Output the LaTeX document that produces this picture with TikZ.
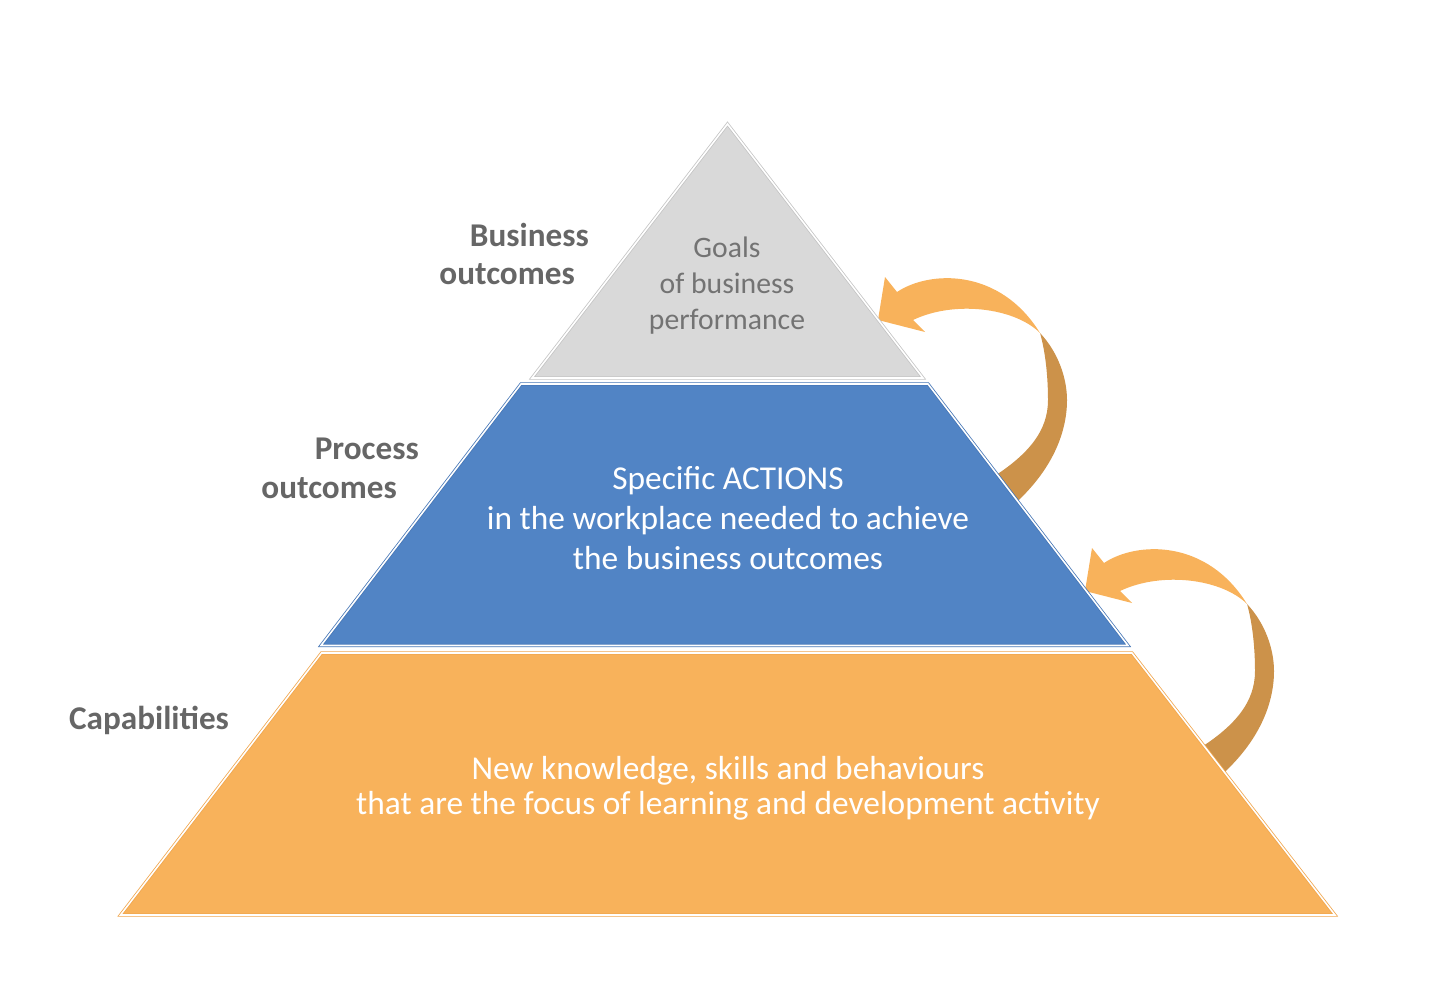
\documentclass[tikz,border=0pt]{standalone}
\usepackage{fontspec}
\setmainfont{Carlito}
\usepackage{tikz}
\usetikzlibrary{calc}
\definecolor{goalfill}{HTML}{D9D9D9}
\definecolor{goaledge}{HTML}{C4C4C4}
\definecolor{actfill}{HTML}{5184C5}
\definecolor{actedge}{HTML}{4676B6}
\definecolor{capfill}{HTML}{F8B25B}
\definecolor{capedge}{HTML}{F0A64E}
\definecolor{backarrow}{HTML}{CC924A}
\definecolor{labgray}{HTML}{666666}
\definecolor{goaltext}{HTML}{737373}
\tikzset{
  layer/.style={line width=0.45pt, double=white, double distance=0.9pt},
  level/.style={text=labgray, font=\fontsize{18.9}{22.1}\selectfont\bfseries, align=right},
  inside/.style={text=white, align=center},
  frontpart/.style={fill=capfill},
  backpart/.style={fill=backarrow},
}

\begin{document}
\begin{tikzpicture}[x=0.02cm, y=-0.02cm]
\useasboundingbox (0,0) rectangle (1440,997);

% curved arrows, drawn behind the pyramid
\foreach \dx/\dy in {0/0, 207/271}{
  \begin{scope}[shift={(\dx,\dy)}]
    \coordinate (twist) at (1040,333);
    \fill[backpart] (twist) .. controls (1058,352) and (1067,378) .. (1067,400)
      .. controls (1067,440) and (1045,480) .. (1005,512)
      -- (985,482) .. controls (1030,455) and (1048,430) .. (1048,400)
      .. controls (1048,375) and (1045,350) .. (twist) -- cycle;
    \fill[frontpart] (897,292) -- (885,277) -- (878,320) -- (925,332) -- (913,320)
      .. controls (955,300) and (1015,308) .. (twist)
      .. controls (1000,268) and (930,270) .. (897,292) -- cycle;
  \end{scope}
}

% pyramid
\coordinate (apex) at (727.5,124);
\coordinate (gl) at (532,378);
\coordinate (gr) at (923,378);
\coordinate (atl) at (521,384);
\coordinate (atr) at (928,384);
\coordinate (abl) at (321,645.5);
\coordinate (abr) at (1128,645.5);
\coordinate (ctl) at (321.5,653);
\coordinate (ctr) at (1132,653);
\coordinate (cbl) at (120.5,915);
\coordinate (cbr) at (1335,915);

\filldraw[layer, draw=goaledge, fill=goalfill] (apex) -- (gr) -- (gl) -- cycle;
\filldraw[layer, draw=actedge, fill=actfill] (atl) -- (atr) -- (abr) -- (abl) -- cycle;
\filldraw[layer, draw=capedge, fill=capfill] (ctl) -- (ctr) -- (cbr) -- (cbl) -- cycle;

\node[inside, text=goaltext, font=\fontsize{16.9}{20.4}\selectfont] (goals) at (727,285.5)
  {Goals\\of business\\performance};
\node[inside, font=\fontsize{19}{22.7}\selectfont] (actions) at (728,518)
  {Specific ACTIONS\\in the workplace needed to achieve\\the business outcomes};
\node[inside, font=\fontsize{19}{19.9}\selectfont] (newcap) at (728,788)
  {New knowledge, skills and behaviours\\that are the focus of learning and development activity};

\node[level, anchor=east] (business) at (595,254) {Business\\outcomes\hspace*{0.28cm}};
\node[level, anchor=east] (process) at (425,468) {Process\\outcomes\hspace*{0.44cm}};
\node[level] (capabilities) at (149,720) {Capabilities};
\end{tikzpicture}
\end{document}
